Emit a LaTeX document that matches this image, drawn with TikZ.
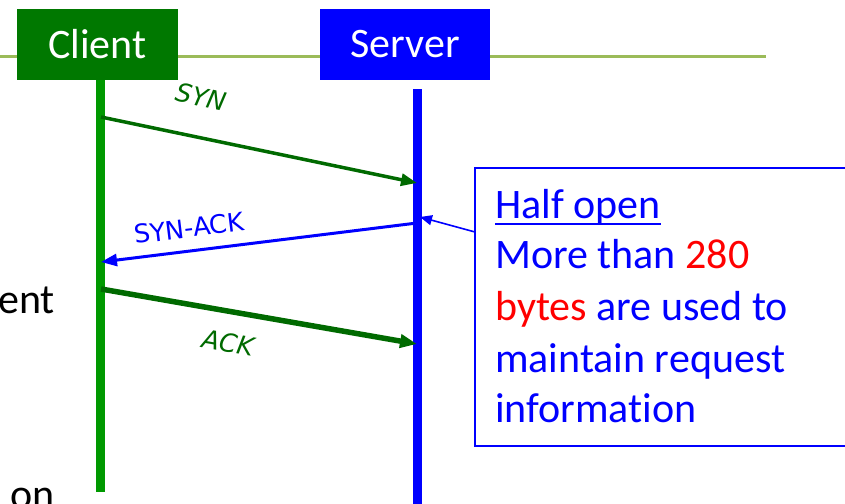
\documentclass[tikz,border=0pt]{standalone}
\usepackage{fontspec}
\setmainfont{Carlito}[Ligatures=NoCommon]
\newfontfamily\labelfont{DejaVu Sans}
\newfontfamily\labelfontit{DejaVu Sans Oblique}
\usetikzlibrary{arrows.meta}
\definecolor{rule}{HTML}{9BBB59}
\definecolor{clientbox}{HTML}{007800}
\definecolor{clientline}{HTML}{009900}
\definecolor{msggreen}{HTML}{006A00}
\definecolor{pureblue}{HTML}{0000FF}
\definecolor{pured}{HTML}{FF0000}
\tikzset{
  headbox/.style={rectangle, inner sep=0pt, text=white, font=\fontsize{42}{50}\selectfont},
  lifeline/.style={line width=9pt},
  msg/.style={-{Triangle[length=16pt,width=12pt]}},
  msglabel/.style={font=\labelfont\fontsize{25.5}{30}\selectfont, inner sep=0pt},
  msglabelit/.style={font=\labelfontit\fontsize{25.5}{30}\selectfont, inner sep=0pt},
  bodytext/.style={font=\fontsize{42}{51}\selectfont, inner sep=0pt, anchor=base west},
  margintext/.style={font=\fontsize{42}{50}\selectfont, inner sep=0pt, anchor=base east}
}
\begin{document}
\begin{tikzpicture}[x=1pt,y=-1pt]
\useasboundingbox (0,0) rectangle (845,503);
\clip (0,0) rectangle (845,503);

% title rule
\draw[rule, line width=3pt] (0,57) -- (766,57);

% body text running along the left margin
\node[margintext] (t1) at (55,313) {ent};
\node[margintext] (t2) at (55,508) {on};

% participants
\node[headbox, fill=clientbox, minimum width=161pt, minimum height=71pt] (client) at (97.5,44.5) {Client};
\node[headbox, fill=pureblue, minimum width=170pt, minimum height=71pt] (server) at (405,44.5) {Server};

% lifelines
\coordinate (ctop) at (100.5,80);
\coordinate (cbot) at (100.5,492);
\coordinate (stop) at (417.3,89);
\coordinate (sbot) at (417.3,510);
\draw[lifeline, clientline] (ctop) -- (cbot);
\draw[lifeline, pureblue] (stop) -- (sbot);

% message end points
\coordinate (synA) at (101,117);
\coordinate (synB) at (417,183);
\coordinate (saA) at (417,223);
\coordinate (saB) at (101,262);
\coordinate (ackA) at (101,289);
\coordinate (ackB) at (417,344);

% messages
\draw[msg, msggreen, line width=3.5pt] (synA) -- (synB);
\draw[msg, pureblue, line width=3pt] (saA) -- (saB);
\draw[msggreen, line width=5.5pt, -{Triangle[length=17pt,width=13pt]}] (ackA) -- (ackB);

\node[msglabelit, text=msggreen, rotate=-12] (synl) at (201,97) {SYN};
\node[msglabel, text=pureblue, rotate=7] (sal) at (189,228) {SYN-ACK};
\node[msglabelit, text=msggreen, rotate=-10] (ackl) at (228,343) {ACK};

% note
\draw[pureblue, line width=1.5pt] (860,168) -- (475,168) -- (475,446) -- (860,446);
\coordinate (notept) at (475,232);
\coordinate (notetip) at (420,217);
\draw[pureblue, line width=1.6pt, -{Triangle[length=12pt,width=10pt]}] (notept) -- (notetip);

\node[bodytext, text=pureblue] (n1) at (495,218) {Half open};
\draw[pureblue, line width=2.2pt] ([yshift=-6pt]n1.base west) -- ([yshift=-6pt]n1.base east);
\node[bodytext, text=pureblue] (n2) at (495,268) {More than \textcolor{pured}{280}};
\node[bodytext, text=pureblue] (n3) at (495,320) {\textcolor{pured}{bytes} are used to};
\node[bodytext, text=pureblue] (n4) at (495,372) {maintain request};
\node[bodytext, text=pureblue] (n5) at (495,422) {information};
\end{tikzpicture}
\end{document}
